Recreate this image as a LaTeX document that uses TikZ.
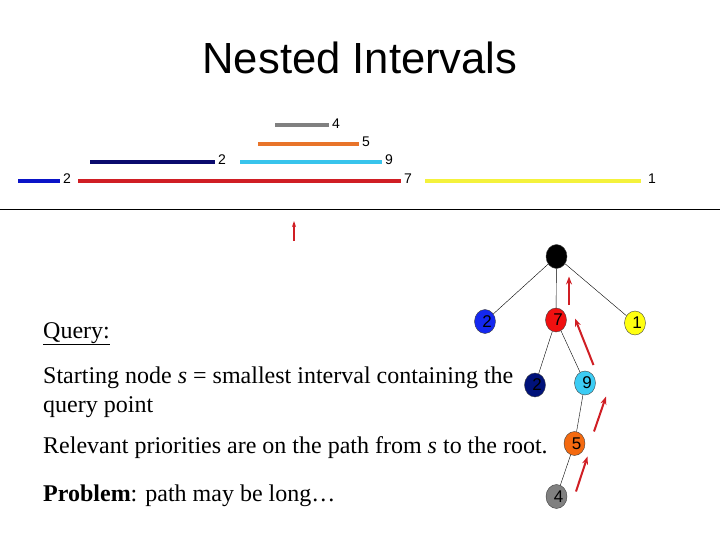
\documentclass[tikz,border=0pt]{standalone}
\usepackage{fontspec}
\setmainfont{Liberation Serif}
\newfontfamily\arialfont{Liberation Sans}
\usetikzlibrary{arrows.meta,shapes.geometric}
\definecolor{cGray}{HTML}{808080}
\definecolor{cOrange}{HTML}{E8742A}
\definecolor{cNavy}{HTML}{0A0A6E}
\definecolor{cCyan}{HTML}{38C4EC}
\definecolor{cBlue}{HTML}{0A14C8}
\definecolor{cRed}{HTML}{D01E24}
\definecolor{cYellow}{HTML}{F4F23C}
\definecolor{nBlue}{HTML}{1428F0}
\definecolor{nRed}{HTML}{F01010}
\definecolor{nYellow}{HTML}{FFFF10}
\definecolor{nNavy}{HTML}{00127A}
\definecolor{nCyan}{HTML}{3CCCF4}
\definecolor{nOrange}{HTML}{F46A10}
\tikzset{
  ival/.style={line width=4pt},
  ilabel/.style={anchor=west,inner sep=1pt,yshift=2pt,
                 font=\arialfont\fontsize{14}{14}\selectfont},
  tnode/.style={ellipse,draw=black!75,minimum width=21pt,minimum height=24pt,
                inner sep=0pt,font=\arialfont\fontsize{17}{17}\selectfont},
  pathup/.style={-{Stealth[length=8pt,width=6pt]},line width=2pt,cRed},
  txt/.style={anchor=base west,inner sep=0pt,font=\fontsize{24}{29}\selectfont},
}
\begin{document}
\begin{tikzpicture}[x=1pt,y=-1pt]
  \useasboundingbox (0,0) rectangle (720,540);

  \node[inner sep=0pt,font=\arialfont\fontsize{43.6}{44}\selectfont] (title) at (360,58) {Nested Intervals};

  % intervals
  \draw[ival,cGray]   (275,125.5) -- (329,125.5) node[ilabel,black] (l4) {4};
  \draw[ival,cOrange] (258,144) -- (359,144) node[ilabel,black] (l5) {5};
  \draw[ival,cNavy]   (90,162) -- (215,162) node[ilabel,black] (l2b) {2};
  \draw[ival,cCyan]   (240,162) -- (382,162) node[ilabel,black] (l9) {9};
  \draw[ival,cBlue]   (18,181) -- (60,181) node[ilabel,black] (l2a) {2};
  \draw[ival,cRed]    (78,181) -- (401,181) node[ilabel,black] (l7) {7};
  \draw[ival,cYellow] (425,181) -- (641,181) node[ilabel,black,xshift=4pt] (l1) {1};
  \draw[line width=1pt] (0,210) -- (720,210);

  % query point
  \coordinate (q0) at (294,241);
  \coordinate (q1) at (294,221);
  \draw[-{Stealth[length=6pt,width=4pt]},line width=1.3pt,cRed] (q0) -- (q1);

  % tree
  \node[tnode,fill=black] (root) at (556.5,256.5) {};
  \node[tnode,fill=nBlue] (n2a) at (485,321.5) {\hspace{4pt}2};
  \node[tnode,fill=nRed] (n7) at (556,320) {\hspace{4pt}7};
  \node[tnode,fill=nYellow] (n1) at (635,323) {\hspace{4pt}1};
  \node[tnode,fill=nNavy] (n2b) at (535,385) {\hspace{4pt}2};
  \node[tnode,fill=nCyan] (n9) at (585,383) {\hspace{4pt}9};
  \node[tnode,fill=nOrange] (n5) at (574.5,443.5) {\hspace{4pt}5};
  \node[tnode,fill=cGray] (n4) at (556.5,496.5) {\hspace{4pt}4};
  \draw (root) -- (n2a);
  \draw (root) -- (n7);
  \draw (root) -- (n1);
  \draw (n7) -- (n2b);
  \draw (n7) -- (n9);
  \draw (n9) -- (n5);
  \draw (n5) -- (n4);

  % path to the root
  \coordinate (a1s) at (576,491.5);  \coordinate (a1e) at (587.5,456.5);
  \coordinate (a2s) at (594,431.5);  \coordinate (a2e) at (606,396.5);
  \coordinate (a3s) at (593.5,365);  \coordinate (a3e) at (575,318.5);
  \coordinate (a4s) at (569,305);    \coordinate (a4e) at (569,276.5);
  \draw[pathup] (a1s) -- (a1e);
  \draw[pathup] (a2s) -- (a2e);
  \draw[pathup] (a3s) -- (a3e);
  \draw[pathup] (a4s) -- (a4e);

  % text
  \node[txt] (query) at (43,338) {\underline{Query:}};
  \node[txt] (start1) at (43,383) {Starting node \textit{s} = smallest interval containing the};
  \node[txt] (start2) at (43,412) {query point};
  \node[txt] (relev) at (43,453) {Relevant priorities are on the path from \textit{s} to the root.};
  \node[txt] (probl) at (43,501) {\textbf{Problem}: path may be long\ldots};
\end{tikzpicture}
\end{document}
